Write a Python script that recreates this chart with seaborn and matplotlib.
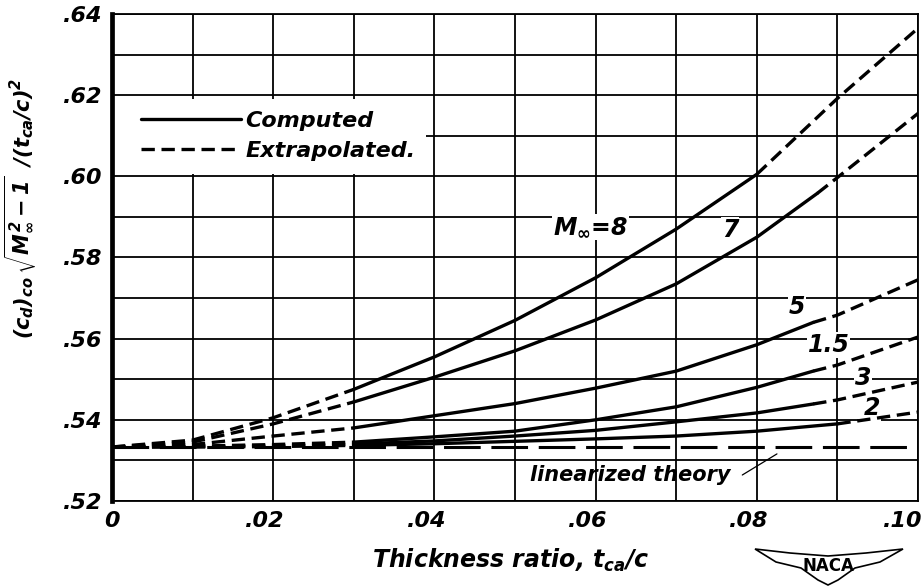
import matplotlib
matplotlib.use("Agg")
import matplotlib.pyplot as plt
from matplotlib.lines import Line2D
from matplotlib.patches import Rectangle, Polygon
from matplotlib.transforms import ScaledTranslation
import numpy as np
import pandas as pd
import seaborn as sns

# --- data --------------------------------------------------------------
# thickness ratio t_ca/c and the drag parameter for each free-stream Mach number
x_m8 = [0.0, 0.01, 0.02, 0.03, 0.04, 0.05, 0.06, 0.07, 0.08, 0.09, 0.10]
y_m8 = [0.5333, 0.5350, 0.5405, 0.5475, 0.5555, 0.5645, 0.5750, 0.5870, 0.6005, 0.6192, 0.6365]

x_m7 = [0.0, 0.01, 0.02, 0.03, 0.04, 0.05, 0.06, 0.07, 0.08, 0.0875, 0.09, 0.10]
y_m7 = [0.5333, 0.5345, 0.5390, 0.5444, 0.5505, 0.5570, 0.5646, 0.5735, 0.5850, 0.5958, 0.5997, 0.6155]

x_m5 = [0.0, 0.01, 0.02, 0.03, 0.04, 0.05, 0.06, 0.07, 0.08, 0.087, 0.09, 0.10]
y_m5 = [0.5333, 0.5339, 0.5360, 0.5380, 0.5410, 0.5440, 0.5478, 0.5520, 0.5585, 0.5640, 0.5658, 0.5745]

x_m15 = [0.0, 0.01, 0.02, 0.03, 0.04, 0.05, 0.06, 0.07, 0.08, 0.087, 0.09, 0.10]
y_m15 = [0.5333, 0.5335, 0.5339, 0.5345, 0.5358, 0.5372, 0.5400, 0.5432, 0.5480, 0.5520, 0.5535, 0.5604]

x_m3 = [0.0, 0.01, 0.02, 0.03, 0.04, 0.05, 0.06, 0.07, 0.08, 0.087, 0.09, 0.10]
y_m3 = [0.5333, 0.5334, 0.5336, 0.5340, 0.5348, 0.5360, 0.5374, 0.5395, 0.5417, 0.5439, 0.5449, 0.5493]

x_m2 = [0.0, 0.01, 0.02, 0.03, 0.04, 0.05, 0.06, 0.07, 0.08, 0.09, 0.10]
y_m2 = [0.5333, 0.5333, 0.5334, 0.5337, 0.5341, 0.5347, 0.5353, 0.5360, 0.5372, 0.5390, 0.5419]

mach_names = ["8", "7", "5", "1.5", "3", "2"]
computed_from = [0.03, 0.03, 0.03, 0.03, 0.03, 0.03]
computed_to = [0.08, 0.0875, 0.087, 0.087, 0.087, 0.09]

x_linear = [0.0, 0.10]
y_linear = [0.5333, 0.5333]

x_ticks = [0.0, 0.01, 0.02, 0.03, 0.04, 0.05, 0.06, 0.07, 0.08, 0.09, 0.10]
x_tick_labels = ["0", "", ".02", "", ".04", "", ".06", "", ".08", "", ".10"]
y_ticks = [0.52, 0.53, 0.54, 0.55, 0.56, 0.57, 0.58, 0.59, 0.60, 0.61, 0.62, 0.63, 0.64]
y_tick_labels = [".52", "", ".54", "", ".56", "", ".58", "", ".60", "", ".62", "", ".64"]

legend_labels = ["Computed", "Extrapolated."]
curve_labels = [r"$M_{\infty}$=8", "7", "5", "1.5", "3", "2"]
curve_label_x = [0.0594, 0.0767, 0.0850, 0.0889, 0.0932, 0.0943]
curve_label_y = [0.5875, 0.5868, 0.5678, 0.5584, 0.5503, 0.5429]

# --- long-form table: split each curve into computed / extrapolated pieces
xs = [x_m8, x_m7, x_m5, x_m15, x_m3, x_m2]
ys = [y_m8, y_m7, y_m5, y_m15, y_m3, y_m2]
rows = []
for name, x, y, a, b in zip(mach_names, xs, ys, computed_from, computed_to):
    for xi, yi in zip(x, y):
        if xi <= a:
            rows.append((name + "_l", "Extrapolated", xi, yi))
        if a <= xi <= b:
            rows.append((name + "_c", "Computed", xi, yi))
        if xi >= b:
            rows.append((name + "_r", "Extrapolated", xi, yi))
df = pd.DataFrame(rows, columns=["segment", "kind", "t", "value"])
lin = pd.DataFrame({"t": x_linear, "value": y_linear})

# --- style ---------------------------------------------------------------
sns.set_style("white")
plt.rcParams["font.family"] = ["DejaVu Sans"]
for key in ["text.color", "axes.labelcolor", "xtick.color", "ytick.color", "axes.edgecolor"]:
    plt.rcParams[key] = "black"
plt.rcParams["mathtext.fontset"] = "custom"
plt.rcParams["mathtext.it"] = "DejaVu Sans:italic:bold"
plt.rcParams["mathtext.rm"] = "DejaVu Sans:italic:bold"
plt.rcParams["mathtext.bf"] = "DejaVu Sans:italic:bold"
txt = dict(style="italic", weight="bold")

fig = plt.figure(figsize=(9.23, 5.86), dpi=100)
ax = fig.add_axes([0.1213, 0.1451, 0.8733, 0.8310])

sns.lineplot(data=df, x="t", y="value", units="segment", style="kind",
             dashes={"Computed": "", "Extrapolated": (4, 2)}, estimator=None,
             sort=False, color="black", lw=2.4, legend=False, ax=ax, zorder=2)
sns.lineplot(data=lin, x="t", y="value", color="black", lw=2.2,
             linestyle=(0, (12, 3.5)), ax=ax, zorder=2)

ax.set_xlim(0, 0.10)
ax.set_ylim(0.52, 0.64)
ax.set_xticks(x_ticks)
ax.set_xticklabels(x_tick_labels, fontsize=16, **txt)
ax.set_yticks(y_ticks)
ax.set_yticklabels(y_tick_labels, fontsize=16, **txt)
ax.tick_params(length=0, pad=7)
# italic hand lettering sits a little left of the grid line
for lab in ax.get_xticklabels():
    if lab.get_text() not in ("", "0"):
        lab.set_transform(lab.get_transform() + ScaledTranslation(-0.08, 0, fig.dpi_scale_trans))
    if lab.get_text() == ".10":
        lab.set_ha("right")
        lab.set_transform(lab.get_transform() + ScaledTranslation(0.12, 0, fig.dpi_scale_trans))

ax.set_axisbelow(True)
ax.grid(True, color="black", lw=1.3)
for s in ["top", "right", "bottom"]:
    ax.spines[s].set_linewidth(1.3)
ax.spines["left"].set_linewidth(3.4)

ax.set_xlabel(r"Thickness ratio, $t_{ca}/c$", fontsize=17, **txt)
ax.xaxis.set_label_coords(0.495, -0.095)
ax.xaxis.label.set_va("top")
ax.set_ylabel(r"$(c_d)_{co}\,\sqrt{M_{\infty}^2-1}\;\;/(t_{ca}/c)^2$", fontsize=15, **txt)
ax.yaxis.set_label_coords(-0.09, 0.60)

# legend on a white patch that hides the grid
ax.add_patch(Rectangle((0, 0.672), 0.39, 0.154, transform=ax.transAxes,
                       facecolor="white", edgecolor="none", zorder=1))
handles = [Line2D([], [], color="black", lw=2.4),
           Line2D([], [], color="black", lw=2.4, linestyle=(0, (4, 2)))]
ax.legend(handles, legend_labels, loc="center left", bbox_to_anchor=(0.022, 0.750),
          frameon=False, borderpad=0, handlelength=4.5, handletextpad=0.2,
          labelspacing=0.45, prop=dict(size=16, **txt))

for lab, lx, ly in zip(curve_labels, curve_label_x, curve_label_y):
    ax.text(lx, ly, lab, fontsize=17, ha="center", va="center", zorder=1.5,
            bbox=dict(facecolor="white", edgecolor="none", pad=0.5), **txt)

ax.text(0.0643, 0.5264, "linearized theory", fontsize=15, ha="center", va="center", **txt)
ax.plot([0.0782, 0.0825], [0.5264, 0.5316], color="black", lw=0.9)

# NACA badge
wing = [(755, 549), (790, 553), (828, 556), (866, 553), (903, 549), (880, 562),
        (855, 568), (838, 580), (828, 585), (818, 580), (801, 568), (776, 562)]
fig.patches.append(Polygon([(px / 923, 1 - py / 586) for px, py in wing], closed=True,
                           transform=fig.transFigure, facecolor="white",
                           edgecolor="black", lw=1.2))
fig.text(828 / 923, 1 - 566 / 586, "NACA", fontsize=12, weight="bold",
         ha="center", va="center")

fig.savefig("out.png", dpi=100)
